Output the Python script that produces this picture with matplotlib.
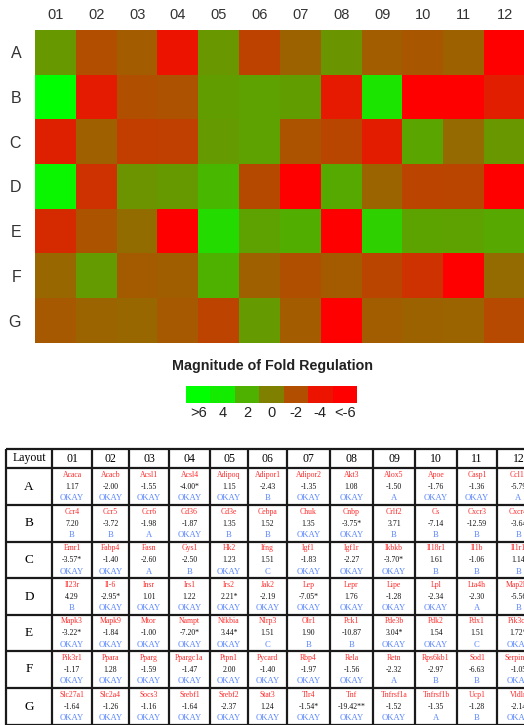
import numpy as np
import matplotlib
matplotlib.use("Agg")
import matplotlib.pyplot as plt
from matplotlib.colors import LinearSegmentedColormap, FuncNorm

rows = ["A", "B", "C", "D", "E", "F", "G"]
cols = ["01", "02", "03", "04", "05", "06", "07", "08", "09", "10", "11", "12"]

genes = [
    ["Acaca", "Acacb", "Acsl1", "Acsl4", "Adipoq", "Adipor1", "Adipor2", "Akt3", "Alox5", "Apoe", "Casp1", "Ccl12"],
    ["Ccr4", "Ccr5", "Ccr6", "Cd36", "Cd3e", "Cebpa", "Chuk", "Cnbp", "Crlf2", "Cs", "Cxcr3", "Cxcr4"],
    ["Emr1", "Fabp4", "Fasn", "Gys1", "Hk2", "Ifng", "Igf1", "Igf1r", "Ikbkb", "Il18r1", "Il1b", "Il1r1"],
    ["Il23r", "Il-6", "Insr", "Irs1", "Irs2", "Jak2", "Lep", "Lepr", "Lipe", "Lpl", "Lta4h", "Map2k1"],
    ["Mapk3", "Mapk9", "Mtor", "Nampt", "Nfkbia", "Nlrp3", "Olr1", "Pck1", "Pde3b", "Pdk2", "Pdx1", "Pik3ca"],
    ["Pik3r1", "Ppara", "Pparg", "Ppargc1a", "Ptpn1", "Pycard", "Rbp4", "Rela", "Retn", "Rps6kb1", "Sod1", "Serpine1"],
    ["Slc27a1", "Slc2a4", "Socs3", "Srebf1", "Srebf2", "Stat3", "Tlr4", "Tnf", "Tnfrsf1a", "Tnfrsf1b", "Ucp1", "Vldlr"],
]

fold = [
    [1.17, -2.00, -1.55, -4.00, 1.15, -2.43, -1.35, 1.08, -1.50, -1.76, -1.36, -5.79],
    [7.20, -3.72, -1.98, -1.87, 1.35, 1.52, 1.35, -3.75, 3.71, -7.14, -12.59, -3.64],
    [-3.57, -1.40, -2.60, -2.50, 1.23, 1.51, -1.83, -2.27, -3.70, 1.61, -1.06, 1.14],
    [4.29, -2.95, 1.01, 1.22, 2.21, -2.19, -7.05, 1.76, -1.28, -2.34, -2.30, -5.56],
    [-3.22, -1.84, -1.00, -7.20, 3.44, 1.51, 1.90, -10.87, 3.04, 1.54, 1.51, 1.72],
    [-1.17, 1.28, -1.59, -1.47, 2.00, -1.40, -1.97, -1.56, -2.32, -2.97, -6.63, -1.05],
    [-1.64, -1.26, -1.16, -1.64, -2.37, 1.24, -1.54, -19.42, -1.52, -1.35, -1.28, -2.14],
]

# significance marks printed after the value
marks = [
    ["", "", "", "*", "", "", "", "", "", "", "", ""],
    ["", "", "", "", "", "", "", "*", "", "", "", ""],
    ["*", "", "", "", "", "", "", "", "*", "", "", ""],
    ["", "*", "", "", "*", "", "*", "", "", "", "", ""],
    ["*", "", "", "*", "*", "", "", "", "*", "", "", "*"],
    ["", "", "", "", "", "", "", "", "", "", "", ""],
    ["", "", "", "", "", "", "*", "**", "", "", "", ""],
]

status = [
    ["OKAY", "OKAY", "OKAY", "OKAY", "OKAY", "B", "OKAY", "OKAY", "A", "OKAY", "OKAY", "A"],
    ["B", "B", "A", "OKAY", "B", "B", "OKAY", "OKAY", "B", "B", "B", "B"],
    ["OKAY", "OKAY", "A", "B", "OKAY", "C", "OKAY", "OKAY", "OKAY", "B", "B", "B"],
    ["B", "OKAY", "OKAY", "OKAY", "OKAY", "OKAY", "OKAY", "OKAY", "OKAY", "OKAY", "A", "B"],
    ["OKAY", "OKAY", "OKAY", "OKAY", "OKAY", "C", "B", "B", "OKAY", "OKAY", "C", "OKAY"],
    ["OKAY", "OKAY", "OKAY", "OKAY", "OKAY", "OKAY", "OKAY", "OKAY", "A", "B", "B", "OKAY"],
    ["OKAY", "OKAY", "OKAY", "OKAY", "OKAY", "OKAY", "OKAY", "OKAY", "OKAY", "A", "B", "OKAY"],
]

legend_vals = [6, 4, 2, 0, -2, -4, -6]
legend_labels = [">6", "4", "2", "0", "-2", "-4", "<-6"]

W, H = 524, 725
fig = plt.figure(figsize=(W / 100, H / 100), dpi=100)


def px_axes(x0, y0, x1, y1):
    # axes placed by pixel box (top-left origin)
    return fig.add_axes([x0 / W, 1 - y1 / H, (x1 - x0) / W, (y1 - y0) / H])


cmap = LinearSegmentedColormap.from_list("fold", ["#ff0000", "#808000", "#00ff00"])


def fwd(v):
    v = np.asarray(v, dtype=float)
    return np.sign(v) * np.maximum(np.abs(v) - 0.35, 0)


def inv(t):
    t = np.asarray(t, dtype=float)
    return np.sign(t) * (np.abs(t) + 0.35)


norm = FuncNorm((fwd, inv), vmin=-4.65, vmax=4.65)

sans = "Liberation Sans"
serif = "Liberation Serif"

# heatmap
ax = px_axes(35, 30, 525, 343)
ax.imshow(np.array(fold), cmap=cmap, norm=norm, aspect="auto", interpolation="nearest")
ax.set_xticks(range(len(cols)))
ax.set_xticklabels(cols, fontsize=10.5, family=sans, color="#333333")
ax.set_yticks(range(len(rows)))
ax.set_yticklabels(rows, fontsize=11.5, family=sans, color="#333333")
ax.xaxis.tick_top()
ax.tick_params(length=0, pad=6)
ax.tick_params(axis="y", pad=10)
for s in ax.spines.values():
    s.set_visible(False)

# colour key
fig.text(273 / W, 1 - 366 / H, "Magnitude of Fold Regulation", ha="center", va="center",
         fontsize=10.3, fontweight="bold", family=sans, color="#222222")
lax = px_axes(186, 386, 357, 403)
lax.imshow(np.array([legend_vals]), cmap=cmap, norm=norm, aspect="auto", interpolation="nearest")
lax.set_yticks([])
lax.set_xticks(range(len(legend_vals)))
lax.set_xticklabels(legend_labels, fontsize=10.5, family=sans, color="#222222")
lax.tick_params(length=0, pad=2)
for s in lax.spines.values():
    s.set_visible(False)

# layout table
tax = px_axes(0, 440, W, H)
tax.set_xlim(0, W)
tax.set_ylim(H, 440)
tax.axis("off")

xb = [6, 52, 92, 129, 169, 210, 248, 287, 330, 373, 415, 457, 497, 540]
yb = [449, 468, 505, 542, 578, 615, 651, 688, 725, 762]

for x in xb:
    tax.plot([x, x], [yb[0], yb[-1]], color="#1a1a1a", lw=1.6, solid_capstyle="butt")
for y in yb:
    tax.plot([xb[0], xb[-1]], [y, y], color="#1a1a1a", lw=1.6, solid_capstyle="butt")

hy = (yb[0] + yb[1]) / 2
tax.text((xb[0] + xb[1]) / 2, hy, "Layout", ha="center", va="center", fontsize=8.5, family=serif)
for j, c in enumerate(cols):
    tax.text((xb[j + 1] + xb[j + 2]) / 2, hy, c, ha="center", va="center", fontsize=8.5, family=serif)

for i, r in enumerate(rows):
    top, bot = yb[i + 1], yb[i + 2]
    h = bot - top
    tax.text((xb[0] + xb[1]) / 2, top + h / 2, r, ha="center", va="center", fontsize=9.5, family=serif)
    for j in range(len(cols)):
        cx = (xb[j + 1] + xb[j + 2]) / 2
        tax.text(cx, top + h * 0.18, genes[i][j], ha="center", va="center",
                 fontsize=5.6, family=serif, color="#ff2a2a")
        tax.text(cx, top + h * 0.51, f"{fold[i][j]:.2f}{marks[i][j]}", ha="center", va="center",
                 fontsize=5.6, family=serif, color="#111111")
        tax.text(cx, top + h * 0.82, status[i][j], ha="center", va="center",
                 fontsize=6.2, family=serif, color="#5a86ff")

fig.savefig("out.png", dpi=100)
